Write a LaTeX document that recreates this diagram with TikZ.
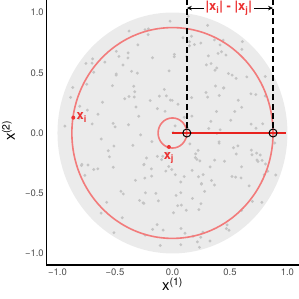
\documentclass[tikz,border=0pt]{standalone}
\usepackage{fontspec}
\setmainfont{TeX Gyre Heros}
\usetikzlibrary{arrows.meta}
\definecolor{discgray}{HTML}{EBEBEB}
\definecolor{ptgray}{HTML}{C4C4C4}
\definecolor{ringred}{HTML}{F27B7B}
\definecolor{linered}{HTML}{E8231F}
\definecolor{labred}{HTML}{EC3232}
\definecolor{tickgray}{HTML}{4D4D4D}

\begin{document}
\begin{tikzpicture}[
  x=115bp, y=120.5bp,
  pt/.style={fill=ptgray},
  ring/.style={draw=ringred, line width=1.6bp},
  hit/.style={circle, draw=black, line width=1bp, inner sep=0pt, minimum size=8bp},
  dot/.style={circle, fill=labred, inner sep=0pt, minimum size=4bp},
  lab/.style={text=labred, font=\bfseries\fontsize{13}{13}\selectfont, inner sep=1pt},
  ticklab/.style={text=tickgray, font=\fontsize{9.5}{10}\selectfont, inner sep=1.5pt},
  axtitle/.style={font=\fontsize{15}{15}\selectfont, inner sep=0pt},
  guide/.style={dash pattern=on 6bp off 3.5bp, line width=1.8bp}
]
\useasboundingbox (-1.5,-1.378) rectangle (1.1,1.104);

% unit disc with sample points
\fill[discgray] (0,0) circle (1);
\pgfmathsetseed{7}
\foreach \k in {1,...,220}{
  \pgfmathsetmacro\rr{0.985*sqrt(rnd)}
  \pgfmathsetmacro\aa{360*rnd}
  \fill[pt] (\aa:\rr) circle (1.6bp);
}

% the two norm circles
\draw[ring] (0,0) circle (0.875);
\draw[ring] (0,0) circle (0.125);
\coordinate (o) at (0,0);
\coordinate (r) at (0.99,0);
\draw[linered, line width=1.6bp] (o) -- (r);
\node[hit] (ci) at (0.125,0) {};
\node[hit] (ce) at (0.875,0) {};

% the points x_i and x_j
\node[dot] (xi) at (171.6:0.872) {};
\node[dot] (xj) at (255:0.12) {};
\node[lab, anchor=west] (xil) at (xi.east) {x\textsubscript{i}};
\node[lab, anchor=north] (xjl) at ([yshift=-2bp]xj.south) {x\textsubscript{j}};

% guides up to the difference
\coordinate (ti) at (0.125,1.104);
\coordinate (te) at (0.875,1.104);
\draw[guide] (ci) -- (ti);
\draw[guide] (ce) -- (te);
\coordinate (ai) at (0.125,1.037);
\coordinate (ae) at (0.875,1.037);
\draw[{Stealth[length=5bp,width=4.5bp]}-{Stealth[length=5bp,width=4.5bp]}, line width=0.9bp] (ai) -- (ae);
\node[lab, fill=white, inner sep=1.5pt] (dl) at (0.49,1.037) {|x\textsubscript{i}| - |x\textsubscript{j}|};

% axes
\coordinate (ytop) at (-1.094,1.104);
\coordinate (corner) at (-1.094,-1.095);
\coordinate (xend) at (1.1,-1.095);
\draw[line width=1.3bp] (ytop) -- (corner) -- (xend);
\foreach \v/\s [count=\n] in {-1/−1.0, -0.5/−0.5, 0/0.0, 0.5/0.5, 1/1.0}{
  \node[ticklab, anchor=east] (ty\n) at (-1.105,\v) {\s};
  \node[ticklab, anchor=north] (tx\n) at (\v,-1.11) {\s};
}
\node[axtitle, anchor=base] (xt) at (0,-1.311) {x\textsuperscript{(1)}};
\node[axtitle, anchor=base, rotate=90] (yt) at (-1.37,0.02) {x\textsuperscript{(2)}};
\end{tikzpicture}
\end{document}
